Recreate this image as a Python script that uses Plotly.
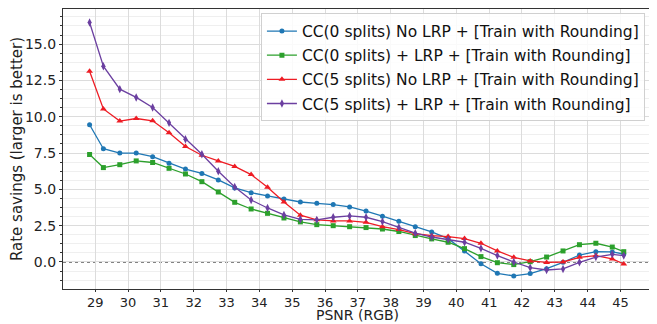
import plotly.graph_objects as go

psnr = [28.83, 29.25, 29.75, 30.25, 30.75, 31.25, 31.75, 32.25, 32.75, 33.25, 33.75, 34.25,
        34.75, 35.25, 35.75, 36.25, 36.75, 37.25, 37.75, 38.25, 38.75, 39.25, 39.75, 40.25,
        40.75, 41.25, 41.75, 42.25, 42.75, 43.25, 43.75, 44.25, 44.75, 45.1]

cc0_no_lrp = [9.45, 7.8, 7.5, 7.5, 7.25, 6.8, 6.4, 6.1, 5.65, 5.1, 4.77, 4.55,
              4.34, 4.13, 4.04, 3.95, 3.79, 3.51, 3.15, 2.8, 2.43, 2.07, 1.61, 0.76,
              -0.12, -0.78, -0.96, -0.8, -0.46, -0.02, 0.48, 0.71, 0.69, 0.55]
cc0_lrp = [7.4, 6.5, 6.7, 6.96, 6.85, 6.45, 6.06, 5.53, 4.82, 4.11, 3.65, 3.35,
           3.03, 2.76, 2.57, 2.5, 2.43, 2.37, 2.27, 2.1, 1.82, 1.59, 1.36, 0.92,
           0.37, -0.05, -0.18, 0.02, 0.34, 0.76, 1.19, 1.29, 1.03, 0.71]
cc5_no_lrp = [13.14, 10.54, 9.7, 9.88, 9.72, 8.9, 7.95, 7.35, 6.96, 6.58, 6.02, 5.15,
              4.13, 3.22, 2.9, 2.83, 2.83, 2.73, 2.43, 2.23, 1.95, 1.81, 1.75, 1.61,
              1.29, 0.76, 0.32, 0.07, -0.03, 0.0, 0.32, 0.44, 0.21, -0.14]
cc5_lrp = [16.49, 13.48, 11.9, 11.33, 10.64, 9.58, 8.45, 7.42, 6.25, 5.17, 4.27, 3.72,
           3.24, 2.94, 2.9, 3.08, 3.17, 3.08, 2.78, 2.38, 1.98, 1.72, 1.56, 1.36,
           0.94, 0.44, 0.0, -0.39, -0.55, -0.48, -0.02, 0.34, 0.53, 0.44]

series = [
    ("CC(0 splits) No LRP + [Train with Rounding]", cc0_no_lrp, "#1f77b4", "circle", 5),
    ("CC(0 splits) + LRP + [Train with Rounding]", cc0_lrp, "#2ca02c", "square", 5),
    ("CC(5 splits) No LRP + [Train with Rounding]", cc5_no_lrp, "#ee1c24", "triangle-up", 6),
    ("CC(5 splits) + LRP + [Train with Rounding]", cc5_lrp, "#6b3fa0", "diamond-tall", 6),
]

yticks = [0.0, 2.5, 5.0, 7.5, 10.0, 12.5, 15.0]
xticks = list(range(29, 46))
x_title = "PSNR (RGB)"
y_title = "Rate savings (larger is better)"

fig = go.Figure()
for i, (name, vals, color, sym, ms) in enumerate(series):
    fig.add_trace(go.Scatter(
        x=psnr, y=vals, name=name, mode="lines+markers",
        line=dict(color=color, width=1.3),
        marker=dict(symbol=sym, size=ms, color=color),
        legendgroup="g%d" % i,
    ))

fig.add_hline(y=0, line=dict(color="black", width=1, dash="dot"), layer="below")

font = "DejaVu Sans, Arial, sans-serif"
fig.add_annotation(text=x_title, xref="paper", yref="paper", x=0.5, y=-0.125,
                   xanchor="center", yanchor="bottom", showarrow=False, borderpad=0,
                   font=dict(family=font, size=14, color="#222"))

# page body has ~8px default margin, so the figure is sized/offset to compensate
fig.update_layout(
    width=649, height=316,
    margin=dict(l=55, r=5, t=1, b=35, autoexpand=False),
    paper_bgcolor="white", plot_bgcolor="white",
    font=dict(family=font, size=14, color="#222"),
    showlegend=True,
    legend=dict(
        x=0.988, y=0.984, xanchor="right", yanchor="top",
        bgcolor="rgba(255,255,255,0.85)", bordercolor="#d0d0d0", borderwidth=1,
        font=dict(family=font, size=15.5, color="#111"),
        tracegroupgap=1, traceorder="grouped", itemwidth=30,
    ),
    xaxis=dict(
        range=[28.02, 45.96], tickvals=xticks, ticktext=[str(t) for t in xticks],
        showgrid=True, gridcolor="#dcdcdc", gridwidth=1.3,
        showline=True, linecolor="#333", linewidth=1.3, mirror=True,
        ticks="outside", ticklen=2, tickcolor="#333", zeroline=False, automargin=False,
        ticklabelstandoff=-1,
        tickfont=dict(family=font, size=13),
    ),
    yaxis=dict(
        range=[-1.86, 17.42], tickvals=yticks, ticktext=["%.1f" % t for t in yticks],
        showgrid=True, gridcolor="#dcdcdc", gridwidth=1.3,
        showline=True, linecolor="#333", linewidth=1.3, mirror=True,
        ticks="outside", ticklen=3, tickcolor="#333", zeroline=False, automargin=False,
        minor=dict(dtick=0.625, tick0=0, showgrid=True, gridcolor="#efefef", gridwidth=1,
                   ticks="outside", ticklen=2, tickcolor="#333"),
        title=dict(text=y_title, font=dict(family=font, size=15), standoff=6),
        tickfont=dict(family=font, size=14),
    ),
)

fig.write_html("out.html")
